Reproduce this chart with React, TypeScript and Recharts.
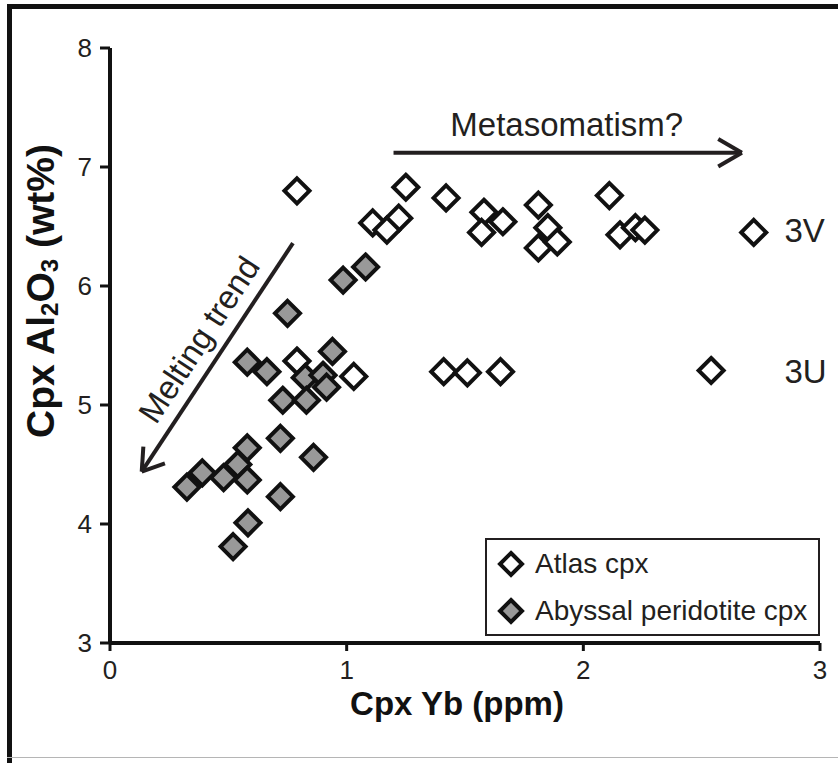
import { ReferenceDot, ReferenceLine, Scatter, ScatterChart, XAxis, YAxis } from "recharts"

// Atlas cpx (open diamonds)
const atlasYb = [0.79, 1.25, 1.22, 1.11, 1.17, 1.42, 1.58, 1.57, 1.66, 1.81, 1.85, 1.81, 1.89, 2.11, 2.155, 2.22, 2.26, 2.72, 1.41, 1.51, 1.65, 2.54, 0.79, 1.03]
const atlasAl = [6.80, 6.83, 6.57, 6.53, 6.47, 6.74, 6.62, 6.45, 6.54, 6.68, 6.49, 6.32, 6.37, 6.76, 6.43, 6.49, 6.47, 6.45, 5.28, 5.27, 5.28, 5.29, 5.37, 5.24]

// Abyssal peridotite cpx (grey diamonds)
const abyssalYb = [1.08, 0.985, 0.75, 0.58, 0.663, 0.94, 0.825, 0.90, 0.915, 0.73, 0.83, 0.72, 0.58, 0.86, 0.54, 0.39, 0.325, 0.48, 0.58, 0.72, 0.583, 0.52]
const abyssalAl = [6.16, 6.05, 5.77, 5.36, 5.28, 5.45, 5.23, 5.25, 5.15, 5.04, 5.04, 4.72, 4.64, 4.56, 4.50, 4.43, 4.31, 4.39, 4.37, 4.23, 4.01, 3.81]

const xTicks = [0, 1, 2, 3]
const yTicks = [3, 4, 5, 6, 7, 8]
const seriesNames = ["Atlas cpx", "Abyssal peridotite cpx"]
const seriesFills = ["#fff", "#999"]

const atlas = atlasYb.map((x, i) => ({ x, y: atlasAl[i] }))
const abyssal = abyssalYb.map((x, i) => ({ x, y: abyssalAl[i] }))

const FONT = "'Liberation Sans', Arial, Helvetica, sans-serif"
const INK = "#231f20"

const diamond = (fill: string) => (props: any) => {
  const { cx, cy } = props
  const r = 12.5
  return (
    <polygon
      points={`${cx},${cy - r} ${cx + r},${cy} ${cx},${cy + r} ${cx - r},${cy}`}
      fill={fill}
      stroke="#111"
      strokeWidth={4}
    />
  )
}

const note = (label: string, opts: { size?: number; anchor?: string; rotate?: number } = {}) => (props: any) => {
  const { cx, cy } = props
  return (
    <text
      x={cx}
      y={cy}
      fontFamily={FONT}
      fontSize={opts.size ?? 33}
      fill={INK}
      textAnchor={opts.anchor ?? "middle"}
      dominantBaseline="central"
      transform={opts.rotate ? `rotate(${opts.rotate} ${cx} ${cy})` : undefined}
    >
      {label}
    </text>
  )
}

function YTitle(props: any) {
  const { viewBox } = props
  const cx = viewBox.x + 40
  const cy = viewBox.y + 243
  return (
    <text
      x={cx}
      y={cy}
      transform={`rotate(-90 ${cx} ${cy})`}
      textAnchor="middle"
      dominantBaseline="central"
      fontFamily={FONT}
      fontWeight="bold"
      fontSize={39}
      fill="#111"
    >
      Cpx Al<tspan dy={9} fontSize={24}>2</tspan>
      <tspan dy={-9}>O</tspan>
      <tspan dy={9} fontSize={24}>3</tspan>
      <tspan dy={-9}> (wt%)</tspan>
    </text>
  )
}

function XTitle(props: any) {
  const { viewBox } = props
  return (
    <text
      x={viewBox.x + viewBox.width / 2 - 8}
      y={viewBox.y + 60}
      textAnchor="middle"
      dominantBaseline="central"
      fontFamily={FONT}
      fontWeight="bold"
      fontSize={33}
      fill="#111"
    >
      Cpx Yb (ppm)
    </text>
  )
}

function LegendBox() {
  return (
    <div
      style={{
        position: "absolute",
        left: 485,
        top: 538,
        width: 331,
        height: 94,
        border: `2px solid ${INK}`,
        background: "#fff",
        fontFamily: FONT,
        fontSize: 28,
        color: INK,
      }}
    >
      {seriesNames.map((name, i) => (
        <div key={name} style={{ display: "flex", alignItems: "center", height: 47 }}>
          <svg width={48} height={30}>
            <polygon points="24,4 35,15 24,26 13,15" fill={seriesFills[i]} stroke="#111" strokeWidth={4} />
          </svg>
          <span style={{ lineHeight: 1 }}>{name}</span>
        </div>
      ))}
    </div>
  )
}

export default function App() {
  return (
    <div style={{ position: "relative", width: 838, height: 763, background: "#fff", overflow: "hidden" }}>
      <style>{"body{margin:0}"}</style>
      {/* figure frame */}
      <div style={{ position: "absolute", left: 7, top: 4, width: 5, height: 759, background: "#111" }} />
      <div style={{ position: "absolute", left: 7, top: 4, width: 831, height: 5, background: "#111" }} />
      <div style={{ position: "absolute", left: 7, top: 757, width: 831, height: 1, background: "#b5b5b5" }} />

      <div style={{ position: "absolute", left: 0, top: 0 }}>
        <ScatterChart width={838} height={763} margin={{ top: 48, right: 18, bottom: 0, left: 0 }}>
          <XAxis
            type="number"
            dataKey="x"
            domain={[0, 3]}
            ticks={xTicks}
            allowDataOverflow
            axisLine={{ stroke: "#111", strokeWidth: 4 }}
            tickLine={{ stroke: "#111", strokeWidth: 3 }}
            tickSize={8}
            tickMargin={10}
            height={120}
            tick={{ fontSize: 26, fill: INK, fontFamily: FONT }}
            label={<XTitle />}
          />
          <YAxis
            type="number"
            dataKey="y"
            domain={[3, 8]}
            ticks={yTicks}
            allowDataOverflow
            axisLine={{ stroke: "#111", strokeWidth: 4 }}
            tickLine={{ stroke: "#111", strokeWidth: 3 }}
            tickSize={10}
            tickMargin={8}
            width={110}
            tick={{ fontSize: 26, fill: INK, fontFamily: FONT }}
            label={<YTitle />}
          />

          {/* Metasomatism arrow */}
          <ReferenceLine segment={[{ x: 1.198, y: 7.12 }, { x: 2.67, y: 7.12 }]} stroke={INK} strokeWidth={4} ifOverflow="visible" />
          <ReferenceLine segment={[{ x: 2.57, y: 7.235 }, { x: 2.67, y: 7.12 }]} stroke={INK} strokeWidth={4} ifOverflow="visible" />
          <ReferenceLine segment={[{ x: 2.57, y: 7.005 }, { x: 2.67, y: 7.12 }]} stroke={INK} strokeWidth={4} ifOverflow="visible" />
          <ReferenceDot x={1.93} y={7.36} r={0} ifOverflow="visible" shape={note("Metasomatism?")} />

          {/* Melting trend arrow */}
          <ReferenceLine segment={[{ x: 0.773, y: 6.36 }, { x: 0.134, y: 4.44 }]} stroke={INK} strokeWidth={4} ifOverflow="visible" />
          <ReferenceLine segment={[{ x: 0.141, y: 4.65 }, { x: 0.134, y: 4.44 }]} stroke={INK} strokeWidth={4} ifOverflow="visible" />
          <ReferenceLine segment={[{ x: 0.232, y: 4.51 }, { x: 0.134, y: 4.44 }]} stroke={INK} strokeWidth={4} ifOverflow="visible" />
          <ReferenceDot x={0.376} y={5.55} r={0} ifOverflow="visible" shape={note("Melting trend", { rotate: -56.6 })} />

          <ReferenceDot x={2.85} y={6.47} r={0} ifOverflow="visible" shape={note("3V", { anchor: "start" })} />
          <ReferenceDot x={2.85} y={5.28} r={0} ifOverflow="visible" shape={note("3U", { anchor: "start" })} />

          <Scatter name={seriesNames[0]} data={atlas} shape={diamond(seriesFills[0])} isAnimationActive={false} />
          <Scatter name={seriesNames[1]} data={abyssal} shape={diamond(seriesFills[1])} isAnimationActive={false} />
        </ScatterChart>
      </div>
      <LegendBox />
    </div>
  )
}
